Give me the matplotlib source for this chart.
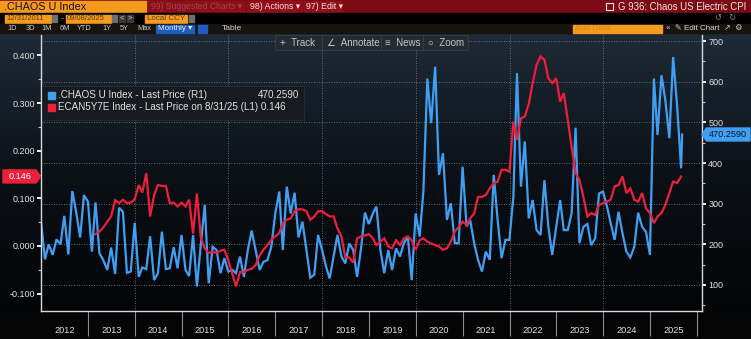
import numpy as np
import pandas as pd
import matplotlib
matplotlib.use("Agg")
import matplotlib.pyplot as plt
from matplotlib import font_manager
from matplotlib.patches import Rectangle, Polygon
from matplotlib.colors import LinearSegmentedColormap
from matplotlib.ticker import MultipleLocator, FormatStrFormatter
from datetime import datetime

# .CHAOS U Index, month ends Dec 2011 .. Aug 2025 (right axis)
chaos_vals = [256,
              163, 200, 174, 212, 200, 270, 175, 331, 280, 217, 321, 305,   # 2012
              182, 303, 178, 161, 137, 192, 127, 290, 280, 130, 133, 253,   # 2013
              120, 143, 139, 220, 112, 129, 231, 139, 141, 193, 141, 223,   # 2014
              137, 122, 223, 96, 202, 297, 104, 194, 186, 129, 166, 133,    # 2015
              137, 129, 170, 120, 186, 234, 186, 137, 157, 161, 194, 276,   # 2016
              330, 186, 342, 276, 327, 217, 256, 186, 118, 125, 223, 186,   # 2017
              145, 116, 170, 223, 170, 153, 202, 186, 120, 190, 278, 250,   # 2018
              276, 293, 186, 129, 186, 137, 190, 170, 203, 219, 112, 276,   # 2019
              219, 330, 608, 498, 637, 371, 424, 260, 301, 203, 203, 391,   # 2020
              244, 260, 203, 162, 133, 182, 162, 371, 260, 166, 211, 211,   # 2021
              317, 621, 342, 453, 264, 309, 235, 223, 358, 243, 174, 243,   # 2022
              309, 235, 235, 276, 487, 203, 243, 250, 198, 215, 325, 330,   # 2023
              293, 252, 211, 280, 227, 182, 168, 194, 278, 243, 231, 174,   # 2024
              608, 469, 616, 555, 461, 661, 540, 387]                       # 2025
chaos_last = 470.2590
chaos_last_date = '2025-09-08'

# ECAN5Y7E Index, month ends Feb 2013 .. Aug 2025 (left axis)
ecan_vals = [0.025, 0.030, 0.039, 0.051, 0.062, 0.096, 0.090, 0.097, 0.090, 0.091, 0.098,
             0.128, 0.112, 0.153, 0.062, 0.107, 0.128, 0.126, 0.126, 0.090, 0.091, 0.083, 0.091,
             0.083, 0.097, 0.026, 0.110, 0.016, -0.005, -0.015, -0.012, -0.015, -0.010, -0.008, -0.030,
             -0.058, -0.085, -0.055, -0.055, -0.050, -0.048, -0.040, -0.020, -0.008, 0.002, 0.013, 0.020,
             0.027, 0.048, 0.055, 0.058, 0.073, 0.077, 0.077, 0.073, 0.055, 0.062, 0.073, 0.073,
             0.067, 0.062, 0.062, 0.037, 0.020, -0.024, -0.024, -0.035, 0.016, 0.020, 0.022, 0.025,
             0.016, 0.002, 0.009, 0.016, -0.001, -0.005, 0.012, 0.002, 0.016, 0.020, 0.012, -0.008,
             0.012, 0.016, 0.009, 0.005, 0.002, -0.001, -0.008, -0.005, 0.009, 0.030, 0.040, 0.051,
             0.044, 0.058, 0.068, 0.103, 0.103, 0.107, 0.121, 0.132, 0.135, 0.160, 0.160, 0.156,
             0.261, 0.223, 0.268, 0.272, 0.298, 0.342, 0.380, 0.398, 0.391, 0.352, 0.342, 0.352,
             0.303, 0.321, 0.265, 0.208, 0.153, 0.139, 0.103, 0.062, 0.069, 0.065, 0.086, 0.090,
             0.093, 0.097, 0.125, 0.128, 0.146, 0.111, 0.121, 0.097, 0.093, 0.111, 0.079, 0.069,
             0.048, 0.062, 0.069, 0.086, 0.111, 0.135, 0.132, 0.146]
ecan_last = 0.146

years = list(range(2012, 2026))
grid_years = [2014, 2016, 2018, 2020, 2022, 2024]
left_ticks = [-0.1, 0.0, 0.1, 0.2, 0.3, 0.4]
right_ticks = [100, 200, 300, 400, 500, 600, 700]

chaos_dates = pd.DatetimeIndex(list(pd.date_range('2011-12-31', '2025-08-31', freq='ME'))
                               + [pd.Timestamp(chaos_last_date)])
chaos_all = chaos_vals + [chaos_last]
ecan_dates = pd.date_range('2013-02-28', '2025-08-31', freq='ME')

avail = {f.name for f in font_manager.fontManager.ttflist}
base = 'Liberation Sans Narrow' if 'Liberation Sans Narrow' in avail else 'Liberation Sans'
plt.rcParams['font.family'] = [base, 'DejaVu Sans']

blue = '#3f9ff2'
red = '#ee1f3d'
orange = '#f49a1c'
txt = '#e2e2e2'
W, H = 751, 339

fig = plt.figure(figsize=(W / 100, H / 100), dpi=100, facecolor='#050505')

# background / header drawn in pixel coords
bg = fig.add_axes([0, 0, 1, 1], zorder=-5)
bg.set_xlim(0, W)
bg.set_ylim(H, 0)
bg.axis('off')
grad = LinearSegmentedColormap.from_list('bb', ['#1f2b37', '#0c1117', '#030405'])
bg.imshow(np.linspace(0, 1, 256).reshape(-1, 1), extent=[0, W, 311, 33], cmap=grad, aspect='auto')
bg.add_patch(Rectangle((0, 311), W, 28, color='#050505'))

# top row
bg.add_patch(Rectangle((0, 0), W, 12.5, color='#7c0b15'))
bg.add_patch(Rectangle((0, 0.5), 146, 11.5, color=orange))
bg.text(4, 6.5, '.CHAOS U Index', color='#1b1208', fontsize=7.8, va='center')
bg.add_patch(Rectangle((148, 0.5), 96, 11.5, color='#8a1019'))
bg.text(151, 6.5, '99) Suggested Charts \u25be', color='#b2404c', fontsize=6.2, va='center')
bg.add_patch(Rectangle((247, 0.5), 55, 11.5, color='#930e1a'))
bg.text(250, 6.5, '98) Actions \u25be', color='#f2e4e4', fontsize=6.3, va='center')
bg.add_patch(Rectangle((304, 0.5), 38, 11.5, color='#930e1a'))
bg.text(306, 6.5, '97) Edit \u25be', color='#f2e4e4', fontsize=6.3, va='center')
bg.add_patch(Rectangle((606, 2.5), 7, 7, fill=False, ec='#f2e4e4', lw=0.8))
bg.text(746, 6.5, 'G 936: Chaos US Electric CPI', color='#f2e4e4', fontsize=6.9, va='center', ha='right')

# second row
bg.add_patch(Rectangle((0, 12.5), W, 11, color='#000000'))
bg.add_patch(Rectangle((5, 14.5), 46, 8, color=orange))
bg.text(6, 18.5, '12/31/2011', color='#5a3a10', fontsize=5.5, va='center')
bg.add_patch(Rectangle((52, 15), 5, 7, color='#707070'))
bg.text(61, 18.5, '-', color=orange, fontsize=6.5, va='center')
bg.add_patch(Rectangle((66, 14.5), 45, 8, color=orange))
bg.text(67, 18.5, '09/08/2025', color='#5a3a10', fontsize=5.5, va='center')
bg.add_patch(Rectangle((112, 15), 5, 7, color='#707070'))
bg.add_patch(Rectangle((119, 15), 6, 7, color='#3a3a3a'))
bg.text(122, 18.5, '<', color='#d0d0d0', fontsize=5.5, va='center', ha='center')
bg.add_patch(Rectangle((127, 15), 6, 7, color='#3a3a3a'))
bg.text(130, 18.5, '>', color='#d0d0d0', fontsize=5.5, va='center', ha='center')
bg.add_patch(Rectangle((145, 14.5), 42, 8, color=orange))
bg.text(147, 18.5, 'Local CCY', color='#5a3a10', fontsize=5.8, va='center')
bg.add_patch(Rectangle((189, 15), 5, 7, color='#707070'))
bg.text(726, 18.5, '\u21ba   \u21bb', color='#8a8a8a', fontsize=6, va='center', ha='center')

# third row
bg.add_patch(Rectangle((0, 23.5), W, 9.5, color='#17130f'))
for lab, xx in zip(['1D', '3D', '1M', '6M', 'YTD', '1Y', '5Y', 'Max'],
                   [12, 30, 47, 65, 84, 107, 124, 144]):
    bg.text(xx, 28.3, lab, color='#c8c8c8', fontsize=5.3, va='center', ha='center')
bg.add_patch(Rectangle((156, 24.5), 38, 8, color='#1f5cc0'))
bg.text(158, 28.5, 'Monthly \u25be', color='#f0f0f0', fontsize=5.8, va='center')
bg.add_patch(Rectangle((198, 24.5), 9, 8, color='#1f5cc0'))
bg.text(222, 28.5, 'Table', color='#d0d0d0', fontsize=6, va='center')
bg.add_patch(Rectangle((573, 24.5), 89, 8, color=orange))
bg.text(575, 28.5, 'Add Data', color='#d98a20', fontsize=6, va='center')
bg.text(666, 28.5, '\u00ab  \u270e Edit Chart  \u2197  \u2699', color='#d8d8d8', fontsize=5.8, va='center')

# main axes
ax = fig.add_axes([41 / W, 1 - 311 / H, 661 / W, 276 / H])
ax2 = ax.twinx()
ax.set_zorder(ax2.get_zorder() + 1)
ax.patch.set_visible(False)
ax2.patch.set_visible(False)

ax2.plot(chaos_dates, chaos_all, color=blue, lw=1.6, solid_joinstyle='miter')
ax.plot(ecan_dates, ecan_vals, color=red, lw=1.6, solid_joinstyle='miter')

ax.set_xlim(datetime(2011, 12, 31), datetime(2026, 2, 10))
ax.set_ylim(-0.1366, 0.443)
ax2.set_ylim(36, 715)

# year separators and labels
ax.set_xticks([datetime(y, 1, 1) for y in years[1:] + [2026]])
ax.set_xticklabels([])
ax.set_xticks([datetime(y, 7, 1) for y in years], minor=True)
ax.set_xticklabels([str(y) for y in years], minor=True)
ax.tick_params(axis='x', which='major', length=18, width=0.8, color='#8c8c8c', direction='out')
ax.tick_params(axis='x', which='minor', length=0, pad=11, labelsize=6.6, labelcolor=txt)

ax.set_yticks(left_ticks)
ax.yaxis.set_major_formatter(FormatStrFormatter('%.3f'))
ax.yaxis.set_minor_locator(MultipleLocator(0.05))
ax.tick_params(axis='y', which='major', length=3, width=1.4, color='#f0f0f0', pad=1.5,
               labelsize=6.5, labelcolor=txt)
ax.tick_params(axis='y', which='minor', length=2, width=0.8, color='#c0c0c0')

ax2.set_yticks(right_ticks)
ax2.yaxis.set_minor_locator(MultipleLocator(50))
ax2.tick_params(axis='y', which='major', length=3, width=1.4, color='#f0f0f0', pad=1.5,
                labelsize=6.5, labelcolor=txt)
ax2.tick_params(axis='y', which='minor', length=2, width=0.8, color='#c0c0c0')

for s in ['top', 'right']:
    ax.spines[s].set_visible(False)
for s in ['top', 'left', 'bottom']:
    ax2.spines[s].set_visible(False)
for sp in [ax.spines['left'], ax.spines['bottom'], ax2.spines['right']]:
    sp.set_color('#d8d8d8')
    sp.set_linewidth(1.0)

ax2.grid(axis='y', which='major', ls=(0, (1, 2)), color='#7d8792', lw=0.6)
for y in grid_years:
    ax2.axvline(datetime(y, 1, 1), ls=(0, (1, 2)), color='#7d8792', lw=0.6, zorder=0)

# overlay: toolbar, legend, value tags
top = fig.add_axes([0, 0, 1, 1], zorder=10)
top.set_xlim(0, W)
top.set_ylim(H, 0)
top.axis('off')

top.add_patch(Rectangle((275, 35), 193, 15, fc='#262c33', ec='#3a4149', lw=0.6, alpha=0.95))
for lab, xx in [('+  Track', 280), ('\u2220  Annotate', 327), ('\u2261  News', 385), ('\u25cb  Zoom', 428)]:
    top.text(xx, 42.5, lab, color='#c6c6c6', fontsize=7, va='center')
for xx in [322, 381, 423]:
    top.plot([xx, xx], [36, 49], color='#3a4149', lw=0.6)

top.add_patch(Rectangle((42, 86), 262, 34, fc='#181b20', ec='#2b3038', lw=0.6, alpha=0.93))
top.add_patch(Rectangle((48, 92), 7, 7, color=blue))
top.text(58, 95.5, '.CHAOS U Index - Last Price (R1)', color=txt, fontsize=7.1, va='center')
top.text(299, 95.5, '%.4f' % chaos_last, color=txt, fontsize=7.1, va='center', ha='right')
top.add_patch(Rectangle((48, 104), 7, 7, color=red))
top.text(58, 107.5, 'ECAN5Y7E Index - Last Price on 8/31/25 (L1) %.3f' % ecan_last,
         color=txt, fontsize=7.1, va='center')

y_red = H - ax.transData.transform((0, ecan_last))[1]
top.add_patch(Polygon([(3, y_red - 6.5), (36, y_red - 6.5), (40.5, y_red), (36, y_red + 6.5),
                       (3, y_red + 6.5)], closed=True, color=red))
top.text(20, y_red, '%.3f' % ecan_last, color='#ffffff', fontsize=6.6, va='center', ha='center')

y_blue = H - ax2.transData.transform((0, chaos_last))[1]
top.add_patch(Polygon([(702, y_blue), (706.5, y_blue - 6.5), (750, y_blue - 6.5), (750, y_blue + 6.5),
                       (706.5, y_blue + 6.5)], closed=True, color=blue))
top.text(728, y_blue, '%.4f' % chaos_last, color='#0a1826', fontsize=6.6, va='center', ha='center')

fig.savefig('out.png', dpi=100, facecolor=fig.get_facecolor())
